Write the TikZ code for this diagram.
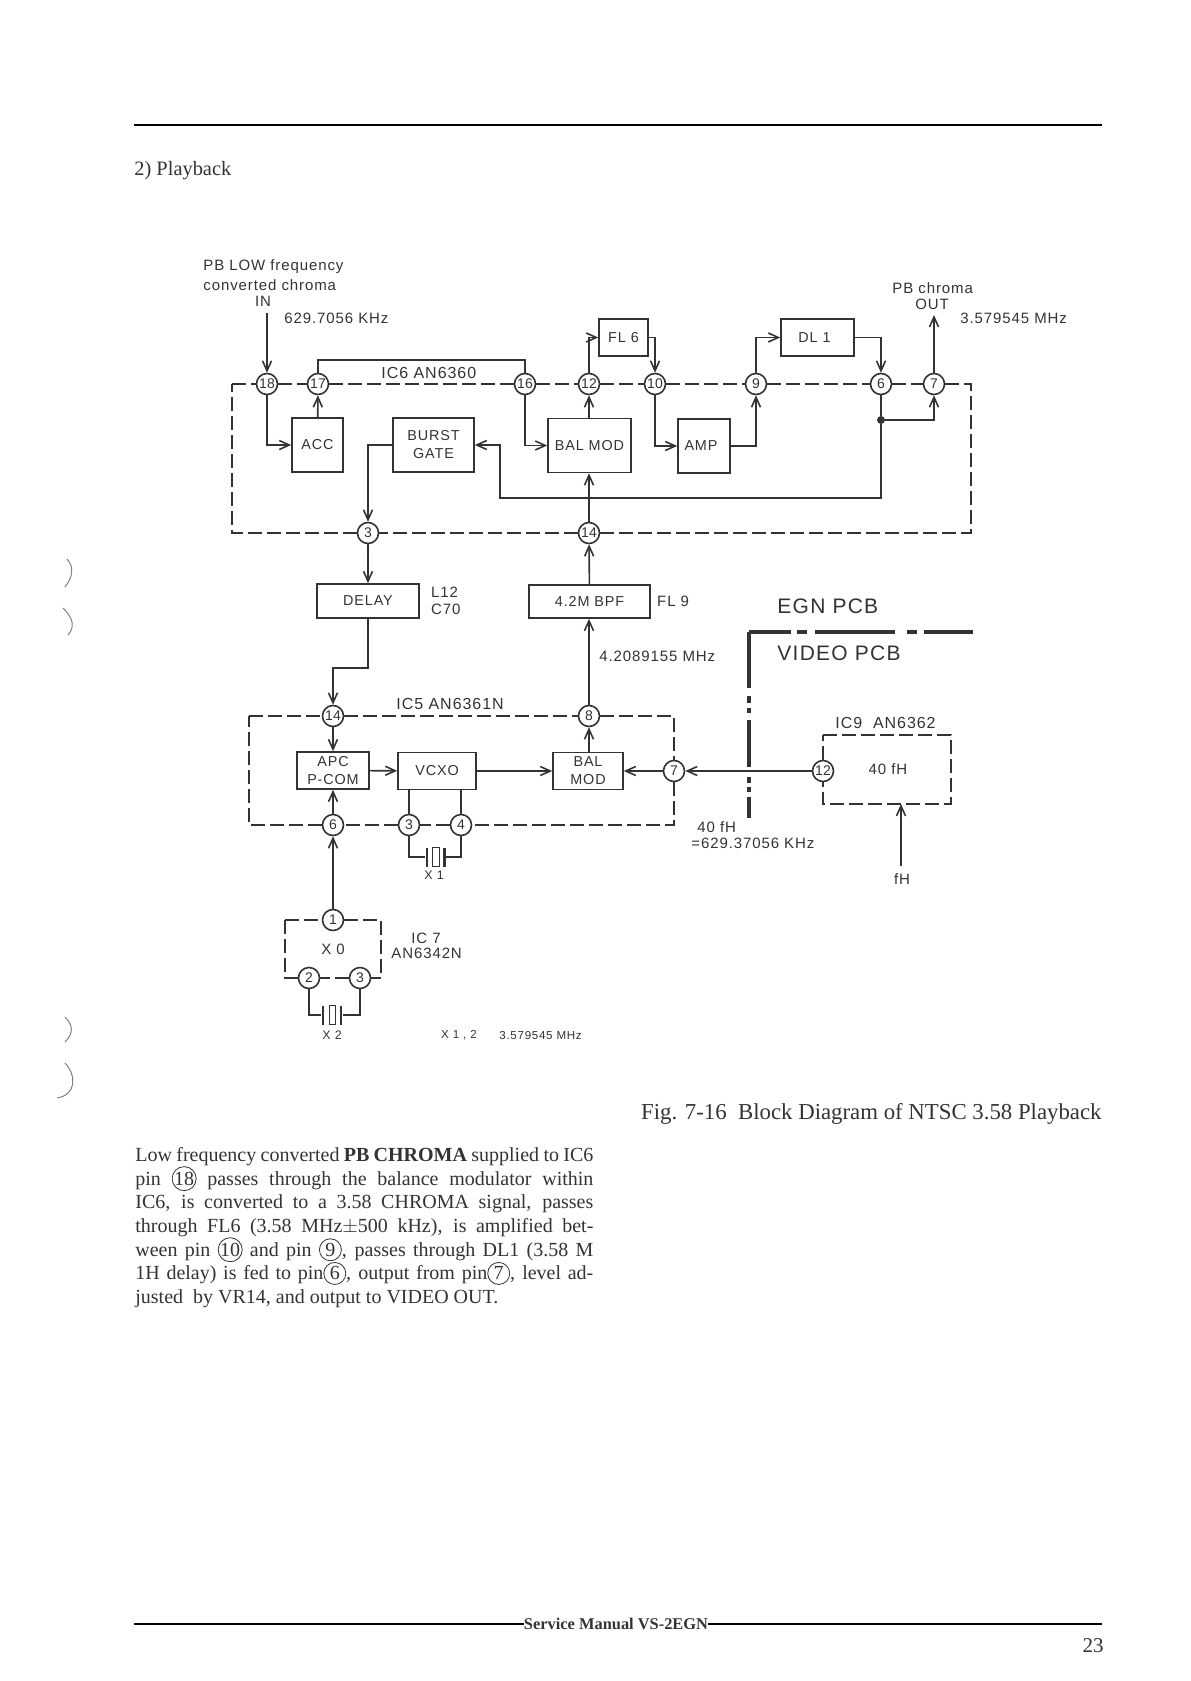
\documentclass[tikz,border=0pt]{standalone}
\usepackage{fontspec}
\setmainfont{Liberation Serif}
\newfontfamily\labelfont[LetterSpace=6]{Liberation Sans}
\newfontfamily\pinfont{Liberation Sans}
\usetikzlibrary{arrows.meta,positioning,backgrounds}
\definecolor{ink}{gray}{0.2}
\newcommand{\pinmark}[1]{\smash{\tikz[baseline=(m.base)]\node[draw,circle,inner sep=0pt,minimum size=11pt,font=\normalsize] (m) {#1};}}

\begin{document}
\begin{tikzpicture}[
  x=0.5pt, y=-0.5pt,
  every node/.style={text=ink},
  box/.style={draw=ink, line width=0.8pt, inner sep=0pt, align=center,
              font=\labelfont\fontsize{7.2}{9}\selectfont},
  pin/.style={draw=ink, line width=0.8pt, circle, minimum size=10.5pt, inner sep=0pt,
              font=\pinfont\fontsize{7}{7}\selectfont},
  lab/.style={inner sep=0pt, align=center, font=\labelfont\fontsize{7.5}{8}\selectfont},
  iclab/.style={inner sep=0pt, font=\labelfont\fontsize{8}{9}\selectfont},
  tinylab/.style={inner sep=0pt, font=\labelfont\fontsize{5.8}{6}\selectfont},
  pcblab/.style={inner sep=0pt, font=\labelfont\fontsize{10.5}{12}\selectfont},
  wire/.style={draw=ink, line width=0.8pt},
  arr/.style={wire, -{Straight Barb[length=5pt,width=4.5pt]}},
  icedge/.style={draw=ink, line width=0.8pt, dash pattern=on 7pt off 2.5pt},
  plate/.style={fill=ink, inner sep=0pt, minimum width=1.2pt, minimum height=9.5pt},
  xtal/.style={draw=ink, line width=0.6pt, inner sep=0pt, minimum width=3.2pt, minimum height=9.5pt},
  junction/.style={fill=ink, circle, inner sep=0pt, minimum size=4pt},
  pcbline/.style={draw=ink, line width=1.8pt},
  scanmark/.style={draw=gray, line width=0.5pt},
]
\useasboundingbox (0,0) rectangle (1190,1681);

% page text
\coordinate (ruleL) at (134,125);
\coordinate (ruleR) at (1102,125);
\draw[draw=black, line width=1.2pt] (ruleL) -- (ruleR);
\node[anchor=base west, inner sep=0pt, font=\fontsize{10.2}{11}\selectfont] (sect) at (134,175) {2) Playback};

% IC6
\node[pin] (a18) at (267,384) {18};
\node[pin] (a17) at (318,384) {17};
\node[pin] (a16) at (525,384) {16};
\node[pin] (a12) at (589,384) {12};
\node[pin] (a10) at (655,384) {10};
\node[pin] (a9)  at (756,384) {9};
\node[pin] (a6)  at (881,384) {6};
\node[pin] (a7)  at (934,384) {7};
\node[pin] (a3)  at (368,533) {3};
\node[pin] (a14) at (589,533) {14};
\coordinate (icsixTL) at (232,384);
\coordinate (icsixTR) at (971,384);
\coordinate (icsixBR) at (971,533);
\coordinate (icsixBL) at (232,533);
\draw[icedge] (icsixTL) -- (a18) -- (a17) -- (a16) -- (a12) -- (a10) -- (a9) -- (a6) -- (a7)
  -- (icsixTR) -- (icsixBR) -- (a14) -- (a3) -- (icsixBL) -- (icsixTL);

\node[box, minimum width=25.5pt, minimum height=27pt] (acc) at (317.5,445) {ACC};
\node[box, minimum width=40.5pt, minimum height=27pt] (burst) at (433.5,445) {BURST\\[0pt]GATE};
\node[box, minimum width=41.5pt, minimum height=27pt] (balmod) at (589.5,445.5) {BAL MOD};
\node[box, minimum width=26pt, minimum height=27pt] (amp) at (704,446) {AMP\hspace{3pt}};
\node[box, minimum width=24.5pt, minimum height=18.5pt] (fl6) at (623.5,337.5) {FL 6};
\node[box, minimum width=36.5pt, minimum height=18.5pt] (dl1) at (817.5,337.5) {DL 1\hspace{3pt}};
\node[junction] (jn) at (881,420) {};

\coordinate (inlet) at (267,313);
\coordinate (outlet) at (934,315);
\coordinate (bridge) at (318,360);
\coordinate (gatefeed) at (500,498);
\draw[arr] (inlet) -- (a18);
\draw[arr] (a18) |- (acc);
\draw[arr] (acc) -- (a17);
\draw[wire] (a17) -- (bridge) -| (a16);
\draw[arr] (a16) |- (balmod);
\draw[arr] (balmod.north -| a12) -- (a12);
\draw[arr] (a12) |- (fl6);
\draw[arr] (fl6) -| (a10);
\draw[arr] (a10) |- (amp);
\draw[arr] (amp) -| (a9);
\draw[arr] (a9) |- (dl1);
\draw[arr] (dl1) -| (a6);
\draw[wire] (a6) -- (jn);
\draw[arr] (jn) -| (a7);
\draw[arr] (a7) -- (outlet);
\draw[arr] (jn) |- (gatefeed) |- (burst);
\draw[arr] (burst) -| (a3);
\draw[arr] (a14) -- (balmod.south -| a14);

\node[lab, anchor=west] (pblow) at (203,267) {PB LOW frequency};
\node[lab, anchor=west] (pbconv) at (203,285) {converted chroma};
\node[lab] (inlab) at (263,301) {IN};
\node[lab, anchor=west] (infreq) at (284,318) {629.7056 KHz};
\node[iclab, anchor=west] (icsix) at (381,373) {IC6 AN6360};
\node[lab, anchor=west] (pbout) at (892,288) {PB chroma};
\node[lab] (outlab) at (932,304) {OUT};
\node[lab, anchor=west] (outfreq) at (960,318) {3.579545 MHz};

% middle row
\node[box, minimum width=51pt, minimum height=17pt] (delay) at (368,601) {DELAY};
\node[box, minimum width=60.5pt, minimum height=16.5pt] (bpf) at (589.5,601.5) {4.2M BPF};
\node[lab, align=left, anchor=west, right=5.5pt of delay, font=\labelfont\fontsize{7.5}{8.6}\selectfont] (lcval) {L12\\C70};
\node[lab, anchor=west, right=3pt of bpf] (fl9) {FL 9};
\node[lab, anchor=west] (midfreq) at (599,656) {4.2089155 MHz};

% IC5
\node[pin] (b14) at (333,716) {14};
\node[pin] (b8)  at (589,716) {8};
\node[pin] (b7)  at (674,771) {7};
\node[pin] (b6)  at (333,825) {6};
\node[pin] (b3)  at (409,825) {3};
\node[pin] (b4)  at (461,825) {4};
\coordinate (icfiveTL) at (249,716);
\coordinate (icfiveTR) at (674,716);
\coordinate (icfiveBR) at (674,825);
\coordinate (icfiveBL) at (249,825);
\draw[icedge] (icfiveTL) -- (b14) -- (b8) -- (icfiveTR) -- (b7) -- (icfiveBR) -- (b4) -- (b3) -- (b6) -- (icfiveBL) -- (icfiveTL);

\node[box, minimum width=36pt, minimum height=18.5pt] (apc) at (333,770.5) {APC\\P-COM};
\node[box, minimum width=39pt, minimum height=18.5pt] (vcxo) at (437,771) {VCXO};
\node[box, minimum width=35pt, minimum height=18.5pt] (bal) at (588,771) {BAL\\MOD};

\node[plate] (xoneL) at (427,857) {};
\node[xtal] (xoneC) at (436,857) {};
\node[plate] (xoneR) at (444.5,857) {};

\coordinate (lcbend) at (333,668);
\draw[arr] (a3) -- (delay.north -| a3);
\draw[arr] (delay.south) |- (lcbend) -- (b14);
\draw[arr] (bpf) -- (a14);
\draw[arr] (b14) -- (apc.north -| b14);
\draw[arr] (b6) -- (apc.south -| b6);
\draw[arr] (apc) -- (vcxo);
\draw[arr] (vcxo) -- (bal);
\draw[arr] (b7) -- (bal);
\draw[arr] (bal.north -| b8) -- (b8);
\draw[arr] (b8) -- (bpf.south -| b8);
\draw[wire] (vcxo.south -| b3) -- (b3);
\draw[wire] (vcxo.south -| b4) -- (b4);
\draw[wire] (b3) |- (xoneL);
\draw[wire] (b4) |- (xoneR);

\node[iclab, anchor=west] (icfive) at (396,704) {IC5 AN6361N};
\node[tinylab, font=\labelfont\fontsize{6.2}{7}\selectfont] (xonelab) at (434,875) {X 1};

% IC7
\node[pin] (c1) at (333,920) {1};
\node[pin] (c2) at (309,978) {2};
\node[pin] (c3) at (360,978) {3};
\coordinate (icsevTL) at (285,920);
\coordinate (icsevTR) at (381,920);
\coordinate (icsevBR) at (381,978);
\coordinate (icsevBL) at (285,978);
\draw[icedge] (icsevTL) -- (c1) -- (icsevTR) -- (icsevBR) -- (c3) -- (c2) -- (icsevBL) -- (icsevTL);
\node[plate] (xtwoL) at (323,1015) {};
\node[xtal] (xtwoC) at (332.5,1015) {};
\node[plate] (xtwoR) at (341,1015) {};
\draw[arr] (c1) -- (b6);
\draw[wire] (c2) |- (xtwoL);
\draw[wire] (c3) |- (xtwoR);
\node[lab] (xo) at (333,949) {X 0};
\node[lab, anchor=west] (icsev) at (411,938) {IC 7};
\node[lab, anchor=west] (icsevpart) at (391,953) {AN6342N};
\node[tinylab, font=\labelfont\fontsize{6.2}{7}\selectfont] (xtwolab) at (332,1035) {X 2};
\node[tinylab] (xboth) at (459,1035) {X 1 , 2};
\node[tinylab, anchor=west] (xfreq) at (499,1035) {3.579545 MHz};

% VIDEO side
\node[pcblab, anchor=west] (egn) at (777,606) {EGN PCB};
\node[pcblab, anchor=west] (video) at (777,653) {VIDEO PCB};
\coordinate (pcbcorner) at (749,632);
\coordinate (pcbright) at (973,632);
\coordinate (pcbfoot) at (749,818);
\draw[pcbline, dash pattern=on 21pt off 3pt on 5pt off 4pt on 40pt off 6pt on 5pt off 3.5pt on 25pt off 0pt] (pcbcorner) -- (pcbright);
\draw[pcbline, dash pattern=on 28pt off 4pt on 3.5pt off 2.5pt on 2.5pt off 3.5pt on 23.5pt off 5pt on 3pt off 2pt on 2.5pt off 2.5pt on 12pt off 0pt] (pcbcorner) -- (pcbfoot);

\node[pin] (d12) at (823,771) {12};
\coordinate (icnineTL) at (823,735);
\coordinate (icnineTR) at (951,735);
\coordinate (icnineBR) at (951,804);
\coordinate (icnineBL) at (823,804);
\coordinate (fhin) at (901,866);
\draw[icedge] (icnineTL) -- (icnineTR) -- (icnineBR) -- (icnineBL) -- (d12) -- (icnineTL);
\draw[arr] (d12) -- (b7);
\draw[arr] (fhin) -- (fhin |- icnineBR);
\node[iclab, anchor=west] (icnine) at (835,723) {IC9\ \ AN6362};
\node[lab] (fortyin) at (888,769) {40 fH};
\node[lab, anchor=west] (fortyout) at (697,827) {40 fH};
\node[lab, anchor=west] (fortyfreq) at (691,843) {=629.37056 KHz};
\node[lab] (fhlab) at (902,879) {fH};

% marks of the scan at the left edge
\draw[scanmark] (67,559) .. controls (75,568) and (72,578) .. (65,587);
\draw[scanmark] (63,608) .. controls (75,620) and (74,628) .. (68,635);
\draw[scanmark] (65,1017) .. controls (74,1026) and (73,1034) .. (65,1042);
\draw[scanmark] (65,1063) .. controls (77,1076) and (76,1095) .. (57,1098);

% caption and body
\node[anchor=base east, inner sep=0pt, font=\fontsize{11.4}{13}\selectfont] (caption) at (1102,1119) {Fig. 7-16 \ Block Diagram of NTSC 3.58 Playback};
\node[anchor=north west, inner sep=0pt, text width=229pt, align=justify, font=\fontsize{10}{11.85}\selectfont] (body) at (135,1147)
 {Low frequency converted \textbf{PB CHROMA} supplied to IC6\linebreak
  pin \pinmark{18} passes through the balance modulator within\linebreak
  IC6, is converted to a 3.58 CHROMA signal, passes\linebreak
  through FL6 (3.58 MHz$\pm$500 kHz), is amplified bet-\linebreak
  ween pin \pinmark{10} and pin \pinmark{9}, passes through DL1 (3.58 M\linebreak
  1H delay) is fed to pin\pinmark{6}, output from pin\pinmark{7}, level ad-\linebreak
  justed\ \ by VR14, and output to VIDEO OUT.};

% footer
\coordinate (footL) at (134,1624);
\coordinate (footR) at (1102,1624);
\node[inner sep=0pt, font=\bfseries\fontsize{8.2}{10}\selectfont] (service) at (616,1624) {Service Manual VS-2EGN};
\draw[draw=black, line width=1pt] (footL) -- (service);
\draw[draw=black, line width=1pt] (service) -- (footR);
\node[anchor=east, inner sep=0pt, font=\fontsize{10.5}{12}\selectfont] (pageno) at (1104,1646) {23};
\end{tikzpicture}
\end{document}
